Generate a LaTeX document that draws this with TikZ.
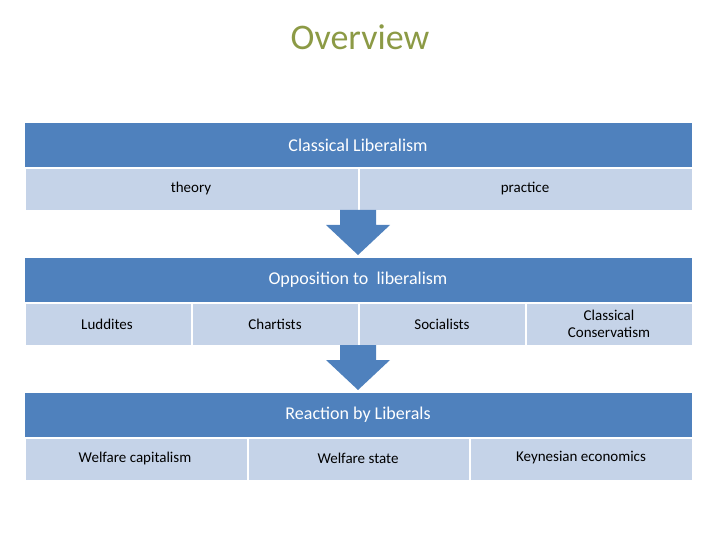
\documentclass[tikz,border=0pt]{standalone}
\usepackage{fontspec}
\setmainfont{Carlito}
\usetikzlibrary{positioning}
\definecolor{barblue}{HTML}{4F81BD}
\definecolor{subblue}{HTML}{C5D3E8}
\definecolor{titlegreen}{HTML}{8C9A45}
\tikzset{
  bar/.style={fill=barblue,draw=white,line width=1pt,minimum height=45pt,
    text=white,font=\fontsize{18}{20}\selectfont,anchor=north west,inner sep=0pt},
  sub/.style={fill=subblue,draw=white,line width=2pt,minimum height=43pt,
    font=\fontsize{15}{17}\selectfont,anchor=north west,inner sep=0pt,align=center},
  downarrow/.style={fill=barblue,draw=none}
}
\begin{document}
\begin{tikzpicture}[x=1pt,y=-1pt]
\useasboundingbox (0,0) rectangle (720,540);
\node[text=titlegreen,font=\fontsize{36}{40}\selectfont] (title) at (360,37) {Overview};

% first level
\node[bar,minimum width=668pt] (lib) at (24,122) {};
\node[text=white,font=\fontsize{18}{20}\selectfont] at (358,145) {Classical Liberalism};
\node[sub,minimum width=334pt] (theory) at (24,167) {};
\node at (191,189) {\fontsize{15}{17}\selectfont theory};
\node[sub,minimum width=334pt] (practice) at (358,167) {};
\node at (525,189) {\fontsize{15}{17}\selectfont practice};

\fill[downarrow] (340,210) -- (376,210) -- (376,225) -- (390,225) -- (358,255)
  -- (326,225) -- (340,225) -- cycle;

% second level
\node[bar,minimum width=668pt] (opp) at (24,257) {};
\node[text=white,font=\fontsize{18}{20}\selectfont] at (358,280) {Opposition to\ \ liberalism};
\node[sub,minimum width=167pt] (luddites) at (24,302) {};
\node at (107,324) {\fontsize{15}{17}\selectfont Luddites};
\node[sub,minimum width=167pt] (chartists) at (191,302) {};
\node at (275,324) {\fontsize{15}{17}\selectfont Chartists};
\node[sub,minimum width=167pt] (socialists) at (358,302) {};
\node at (442,324) {\fontsize{15}{17}\selectfont Socialists};
\node[sub,minimum width=167pt] (conserv) at (525,302) {};
\node[align=center,font=\fontsize{15}{17}\selectfont] at (609,324) {Classical\\Conservatism};

\fill[downarrow] (340,345) -- (376,345) -- (376,360) -- (390,360) -- (358,390)
  -- (326,360) -- (340,360) -- cycle;

% third level
\node[bar,minimum width=668pt] (react) at (24,392) {};
\node[text=white,font=\fontsize{18}{20}\selectfont] at (358,415) {Reaction by Liberals};
\node[sub,minimum width=223pt] (wcap) at (24,437) {};
\node at (135,458) {\fontsize{15}{17}\selectfont Welfare capitalism};
\node[sub,minimum width=222pt] (wstate) at (247,437) {};
\node at (358,458) {\fontsize{15}{17}\selectfont Welfare state};
\node[sub,minimum width=223pt] (keynes) at (469,437) {};
\node at (581,458) {\fontsize{15}{17}\selectfont Keynesian economics};
\end{tikzpicture}
\end{document}
